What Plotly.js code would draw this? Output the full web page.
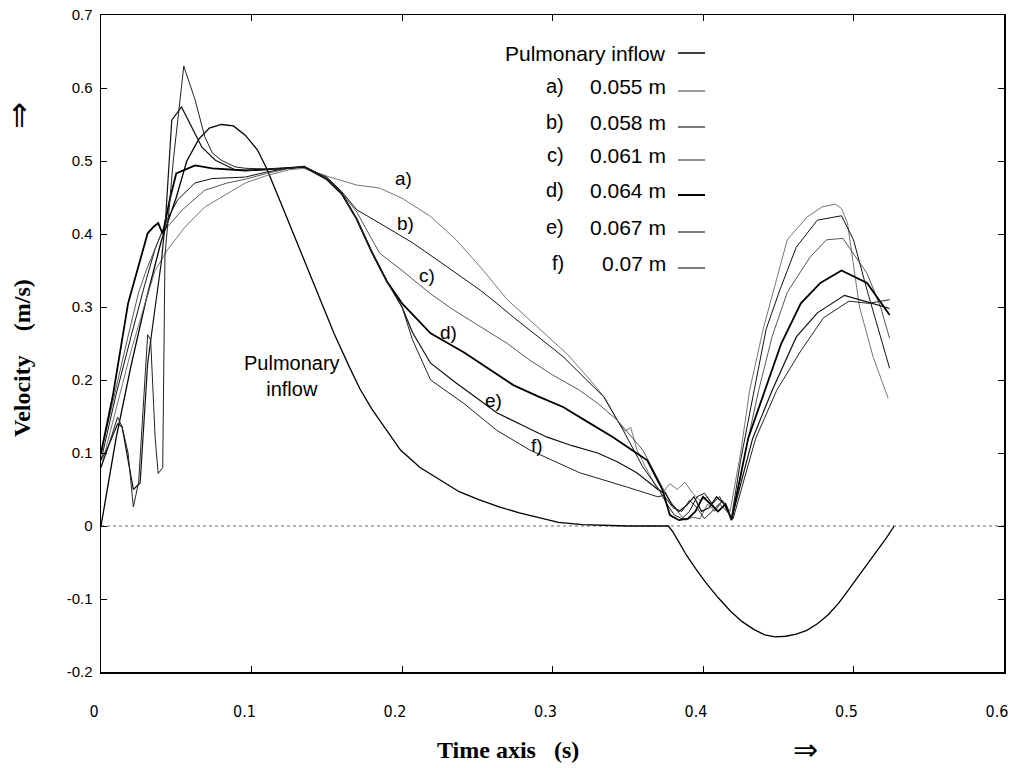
<!DOCTYPE html>
<html>
<head>
<meta charset="utf-8">
<script src="https://cdn.plot.ly/plotly-3.0.1.min.js"></script>
<style>
html,body{margin:0;padding:0;background:#fff;}
#chart{width:1013px;height:768px;}
</style>
</head>
<body>
<div id="chart"></div>
<script>
// ---------- data ----------
const pulmT = [0,.005,.01,.02,.03,.04,.05,.057,.065,.072,.08,.088,.096,.104,.11,.12,.13,.146,.155,.165,.172,.18,.19,.199,.212,.225,.238,.251,.265,.278,.291,.304,.32,.336,.35,.377,.38,.384,.389,.395,.402,.41,.418,.426,.434,.441,.448,.455,.462,.469,.476,.483,.49,.494,.5,.507,.516,.522,.527];
const pulmV = [0,.06,.12,.22,.31,.39,.45,.50,.53,.545,.55,.548,.535,.515,.49,.44,.39,.31,.263,.218,.188,.16,.13,.104,.08,.063,.047,.036,.026,.018,.011,.005,.002,.001,0,0,-.008,-.022,-.04,-.058,-.078,-.098,-.116,-.131,-.142,-.149,-.152,-.151,-.148,-.143,-.134,-.122,-.106,-.095,-.078,-.058,-.033,-.016,0];

const aT = [0,.01,.02,.03,.036,.044,.056,.069,.084,.096,.11,.125,.135,.152,.17,.185,.2,.219,.236,.252,.27,.292,.31,.325,.335,.343,.348,.352,.356,.362,.369,.373,.378,.383,.388,.393,.398,.403,.408,.413,.418,.425,.431,.44,.447,.456,.469,.479,.488,.492,.496,.504,.513,.523];
const aV = [.08,.16,.24,.31,.35,.378,.41,.437,.456,.47,.48,.488,.49,.478,.467,.463,.449,.424,.392,.355,.31,.268,.235,.2,.175,.145,.13,.135,.105,.08,.053,.045,.058,.05,.06,.045,.035,.04,.025,.035,.02,.1,.186,.27,.323,.392,.423,.437,.441,.435,.415,.30,.232,.175];

const bT = [0,.01,.02,.029,.036,.044,.051,.0625,.074,.096,.11,.125,.135,.15,.16,.17,.185,.207,.23,.252,.263,.274,.29,.307,.334,.347,.36,.371,.376,.381,.386,.391,.396,.401,.406,.411,.419,.425,.434,.442,.451,.462,.476,.492,.5,.509,.518,.524];
const bV = [.09,.18,.26,.33,.38,.42,.447,.47,.476,.478,.485,.49,.492,.478,.458,.433,.415,.388,.355,.323,.305,.286,.26,.232,.177,.131,.081,.049,.03,.015,.01,.02,.04,.045,.03,.04,.012,.09,.186,.27,.323,.382,.419,.425,.392,.323,.259,.216];

const cT = [0,.01,.018,.025,.03,.04,.054,.069,.084,.096,.11,.125,.135,.15,.16,.17,.185,.2,.219,.235,.252,.27,.285,.3,.318,.33,.343,.36,.373,.378,.383,.388,.393,.398,.403,.408,.413,.419,.428,.437,.446,.456,.471,.482,.493,.509,.518,.524];
const cV = [.1,.19,.26,.32,.35,.40,.433,.46,.47,.475,.483,.49,.493,.477,.456,.43,.374,.35,.318,.295,.273,.25,.227,.207,.186,.168,.145,.104,.053,.035,.02,.008,.012,.01,.03,.02,.035,.01,.1,.186,.26,.32,.368,.392,.394,.346,.30,.257];

const dT = [0,.008,.018,.025,.031,.035,.038,.041,.046,.05,.0625,.074,.096,.12,.135,.15,.16,.17,.18,.19,.2,.207,.219,.241,.258,.274,.29,.307,.323,.34,.352,.363,.373,.378,.384,.39,.395,.4,.405,.41,.415,.419,.43,.441,.452,.465,.478,.492,.509,.524];
const dV = [.1,.18,.305,.355,.401,.41,.415,.40,.45,.483,.494,.49,.487,.49,.492,.475,.455,.42,.375,.335,.305,.29,.264,.238,.215,.193,.178,.163,.143,.122,.105,.09,.05,.015,.008,.01,.02,.04,.03,.02,.03,.008,.12,.186,.25,.305,.333,.35,.333,.289];

const eT = [0,.005,.011,.014,.018,.0215,.026,.031,.036,.04,.043,.047,.0535,.06,.067,.076,.089,.1,.115,.135,.15,.16,.17,.18,.19,.2,.207,.219,.236,.263,.28,.296,.313,.33,.343,.356,.37,.375,.379,.384,.389,.394,.399,.404,.409,.414,.419,.433,.446,.462,.476,.494,.509,.524];
const eV = [.08,.11,.14,.136,.09,.05,.059,.223,.30,.36,.423,.556,.574,.547,.519,.501,.488,.487,.489,.492,.475,.455,.42,.375,.335,.3,.265,.223,.196,.155,.138,.122,.11,.1,.088,.073,.05,.045,.03,.02,.028,.04,.02,.025,.04,.03,.01,.12,.186,.259,.292,.316,.307,.298];

const fT = [0,.005,.011,.014,.018,.0215,.025,.029,.031,.033,.036,.038,.041,.0425,.048,.055,.0625,.069,.074,.08,.089,.096,.11,.125,.135,.15,.16,.17,.18,.19,.2,.207,.219,.241,.263,.285,.318,.35,.37,.374,.38,.386,.391,.396,.401,.406,.411,.416,.42,.435,.449,.465,.48,.497,.51,.524];
const fV = [.09,.11,.149,.136,.1,.026,.06,.2,.262,.255,.12,.072,.08,.37,.50,.63,.584,.533,.511,.501,.492,.49,.489,.49,.492,.475,.455,.42,.375,.335,.3,.255,.2,.168,.131,.104,.073,.053,.04,.042,.025,.02,.035,.025,.01,.02,.03,.02,.01,.12,.186,.24,.285,.308,.305,.31];

const curveNames = ['Pulmonary inflow','a) 0.055 m','b) 0.058 m','c) 0.061 m','d) 0.064 m','e) 0.067 m','f) 0.07 m'];
const xTickVals = [0,0.1,0.2,0.3,0.4,0.5,0.6];
const xTickText = ['0','0.1','0.2','0.3','0.4','0.5','0.6'];
const yTickVals = [-0.2,-0.1,0,0.1,0.2,0.3,0.4,0.5,0.6,0.7];
const yTickText = ['-0.2','-0.1','0','0.1','0.2','0.3','0.4','0.5','0.6','0.7'];

const legendPrefix = ['a)','b)','c)','d)','e)','f)'];
const legendValue = ['0.055 m','0.058 m','0.061 m','0.064 m','0.067 m','0.07 m'];
const curveLabels = ['a)','b)','c)','d)','e)','f)'];

// ---------- styles ----------
const styles = [
  {color:'#000', width:1.3},
  {color:'#666', width:0.9},
  {color:'#111', width:1.0},
  {color:'#444', width:0.9},
  {color:'#000', width:1.8},
  {color:'#111', width:1.2},
  {color:'#222', width:1.0}
];
const series = [[pulmT,pulmV],[aT,aV],[bT,bV],[cT,cV],[dT,dV],[eT,eV],[fT,fV]];
const traces = series.map((s,i)=>({
  x:s[0], y:s[1], type:'scatter', mode:'lines', name:curveNames[i],
  line:Object.assign({shape:'linear'}, styles[i]), showlegend:false, hoverinfo:'skip'
}));

// ---------- layout helpers ----------
const L=101, R=1004, T=15, B=672;
const px = v => (v-L)/(R-L);
const py = v => (B-v)/(B-T);

const annotations = [];
const shapes = [];
const sans = 'Liberation Sans, Arial, sans-serif';
const serif = 'Liberation Serif, Times New Roman, serif';

// legend block
const rowY = [53,86,122,155,190,227,263];
annotations.push({xref:'paper',yref:'paper',x:px(668),y:py(rowY[0]),xanchor:'right',yanchor:'middle',
  text:'Pulmonary inflow',showarrow:false,font:{family:sans,size:21,color:'#000'}});
shapes.push({type:'line',xref:'paper',yref:'paper',x0:px(678),x1:px(705),y0:py(rowY[0]),y1:py(rowY[0]),
  line:{color:'#000',width:1.5}});
const legendLineColor = ['#555','#222','#444','#000','#222','#222'];
for(let i=0;i<6;i++){
  const y = rowY[i+1];
  annotations.push({xref:'paper',yref:'paper',x:px(566),y:py(y),xanchor:'right',yanchor:'middle',
    text:legendPrefix[i],showarrow:false,font:{family:sans,size:20,color:'#000'}});
  annotations.push({xref:'paper',yref:'paper',x:px(668),y:py(y),xanchor:'right',yanchor:'middle',
    text:legendValue[i],showarrow:false,font:{family:sans,size:21,color:'#000'}});
  shapes.push({type:'line',xref:'paper',yref:'paper',x0:px(678),x1:px(705),y0:py(y+5),y1:py(y+5),
    line:{color:legendLineColor[i],width:i===3?2:1.2}});
}

// in-plot curve labels
const labelPos = [[403,178],[405,223],[427,275],[448,332],[493,400],[537,445]];
curveLabels.forEach((t,i)=>{
  annotations.push({xref:'paper',yref:'paper',x:px(labelPos[i][0]),y:py(labelPos[i][1]),
    xanchor:'center',yanchor:'middle',text:t,showarrow:false,font:{family:sans,size:19,color:'#000'}});
});
annotations.push({xref:'paper',yref:'paper',x:px(292),y:py(376),xanchor:'center',yanchor:'middle',
  text:'Pulmonary<br>inflow',showarrow:false,font:{family:sans,size:20,color:'#000'}});

// axis titles and arrows
const sp = '\u00A0\u00A0\u00A0';
annotations.push({xref:'paper',yref:'paper',x:px(508),y:py(750),xanchor:'center',yanchor:'middle',
  text:'<b>Time axis'+sp+'(s)</b>',showarrow:false,font:{family:serif,size:24,color:'#000'}});
annotations.push({xref:'paper',yref:'paper',x:px(805),y:py(750),xanchor:'center',yanchor:'middle',
  text:'\u21D2',showarrow:false,font:{family:'DejaVu Sans, sans-serif',size:30,color:'#000'}});
annotations.push({xref:'paper',yref:'paper',x:px(22),y:py(358),xanchor:'center',yanchor:'middle',textangle:-90,
  text:'<b>Velocity'+sp+'\u00A0(m/s)</b>',showarrow:false,font:{family:serif,size:24,color:'#000'}});
annotations.push({xref:'paper',yref:'paper',x:px(19),y:py(116),xanchor:'center',yanchor:'middle',
  text:'\u21D1',showarrow:false,font:{family:'DejaVu Sans, sans-serif',size:32,color:'#000'}});

// zero reference line (dotted)
shapes.push({type:'line',xref:'paper',yref:'y',x0:0,x1:1,y0:0,y1:0,layer:'below',
  line:{color:'#666',width:1,dash:'dot'}});

const layout = {
  width:1013, height:768,
  margin:{l:L, r:1013-R, t:T, b:768-B, pad:0},
  paper_bgcolor:'#fff', plot_bgcolor:'#fff',
  showlegend:false,
  xaxis:{range:[0,0.6], tickvals:xTickVals, ticktext:xTickText, showgrid:false, zeroline:false,
    showline:true, mirror:'ticks', linecolor:'#000', linewidth:1.5, ticks:'inside', ticklen:6,
    tickcolor:'#000', tickwidth:1, ticklabelstandoff:24, ticklabelshift:-7, ticklabeloverflow:'allow',
    tickfont:{family:'Liberation Sans Narrow, Arial Narrow, DejaVu Sans Condensed, sans-serif',size:16,color:'#000'}},
  yaxis:{range:[-0.2,0.7], tickvals:yTickVals, ticktext:yTickText, showgrid:false, zeroline:false,
    showline:true, mirror:'ticks', linecolor:'#000', linewidth:1.5, ticks:'inside', ticklen:6,
    tickcolor:'#000', tickwidth:1, ticklabelstandoff:4,
    tickfont:{family:sans,size:15,color:'#000'}},
  annotations:annotations,
  shapes:shapes
};

Plotly.newPlot('chart', traces, layout, {staticPlot:true, displayModeBar:false});
</script>
</body>
</html>
